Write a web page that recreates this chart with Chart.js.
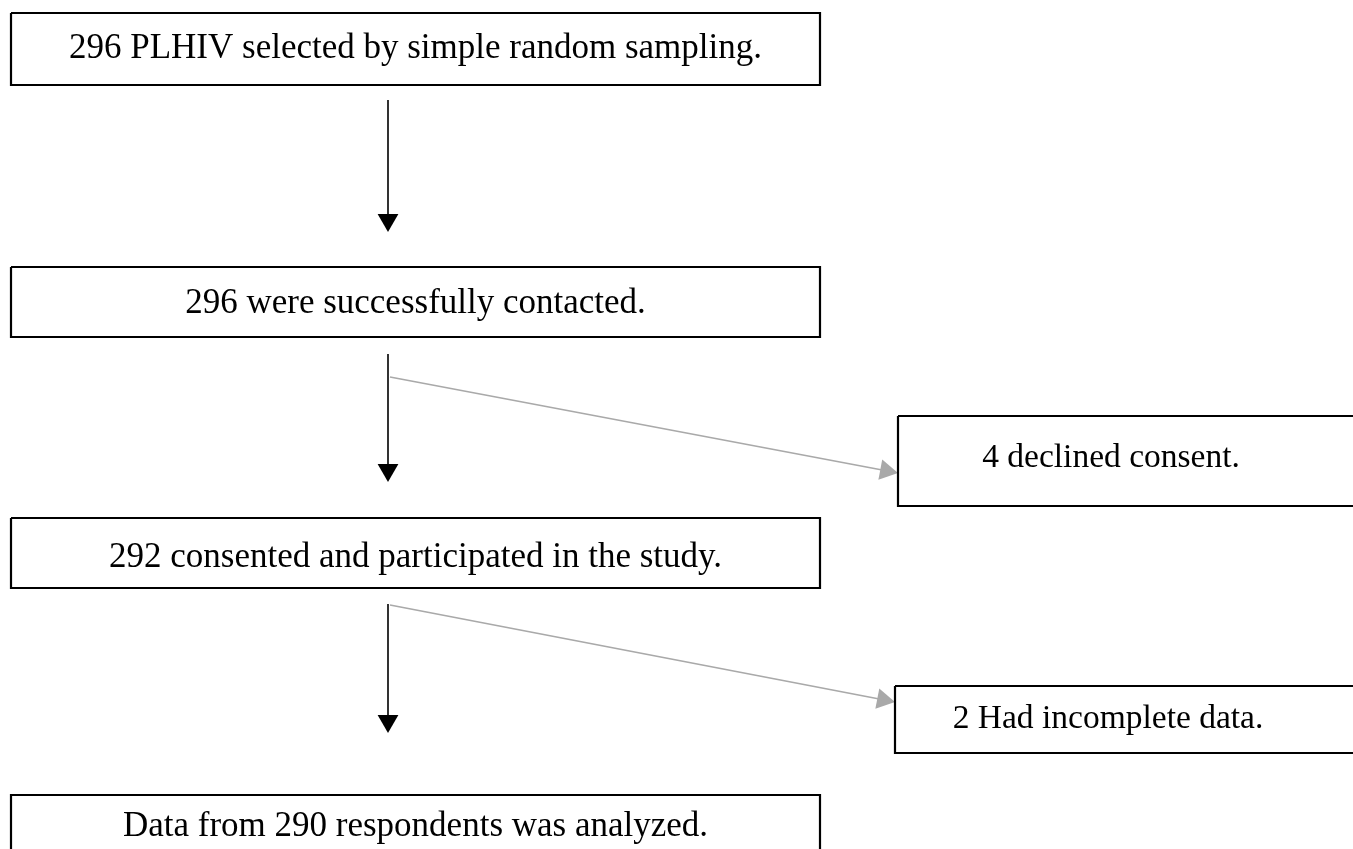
<!DOCTYPE html>
<html>
<head>
<meta charset="utf-8">
<script src="https://cdn.jsdelivr.net/npm/chart.js@4"></script>
<style>
  html, body { margin: 0; padding: 0; background: #ffffff; }
  #wrap { width: 1353px; height: 849px; position: relative; }
</style>
</head>
<body>
<div id="wrap"><canvas id="c"></canvas></div>
<script>
// ---- Data (flow counts and step labels) ----
const stepCounts = [296, 296, 292, 290];
const stepLabels = [
  "296 PLHIV selected by simple random sampling.",
  "296 were successfully contacted.",
  "292 consented and participated in the study.",
  "Data from 290 respondents was analyzed."
];
const excludedCounts = [4, 2];
const excludedLabels = [
  "4 declined consent.",
  "2 Had incomplete data."
];

// ---- Layout (canvas-unit scale, 1 unit = 1 px) ----
const mainLeft = 11, mainRight = 820;
const mainTops = [13, 267, 518, 795];
const mainBottoms = [85, 337, 588, 870];
const mainTextY = [49, 304, 558, 827];
const sideLefts = [898, 895];
const sideRight = 1380;
const sideTops = [416, 686];
const sideBottoms = [506, 753];
const sideTextY = [458, 719];
const sideTextX = [1111, 1108];
const downX = 388;
const downStarts = [100, 354, 604];
const downTips = [232, 482, 733];
const branchStarts = [[390, 377], [390, 605]];
const branchTips = [[898, 473], [895, 702]];

function boxPath(l, t, r, b, openBottom) {
  if (openBottom) return [{x:l,y:b},{x:l,y:t},{x:r,y:t},{x:r,y:b}];
  return [{x:l,y:t},{x:r,y:t},{x:r,y:b},{x:l,y:b},{x:l,y:t}];
}
function arrowDatasets(from, tip, color, width, r) {
  const dx = tip[0]-from[0], dy = tip[1]-from[1];
  const len = Math.hypot(dx, dy), ux = dx/len, uy = dy/len;
  const cx = tip[0]-ux*r, cy = tip[1]-uy*r;
  const rot = Math.atan2(ux, -uy)*180/Math.PI;
  return [
    { data: [{x:from[0],y:from[1]},{x:cx,y:cy}], showLine: true, borderColor: color,
      borderWidth: width, pointRadius: 0 },
    { data: [{x:cx,y:cy}], showLine: false, pointStyle: 'triangle', pointRadius: r,
      pointRotation: rot, pointBackgroundColor: color, pointBorderWidth: 0, borderWidth: 0 }
  ];
}

const datasets = [];
stepLabels.forEach((s, i) => {
  datasets.push({ data: boxPath(mainLeft, mainTops[i], mainRight, mainBottoms[i], i === stepLabels.length-1),
    showLine: true, borderColor: '#000', borderWidth: 2.2, pointRadius: 0 });
});
excludedLabels.forEach((s, i) => {
  datasets.push({ data: boxPath(sideLefts[i], sideTops[i], sideRight, sideBottoms[i], false),
    showLine: true, borderColor: '#000', borderWidth: 2.2, pointRadius: 0 });
});
downStarts.forEach((s, i) => {
  arrowDatasets([downX, s], [downX, downTips[i]], '#000', 1.6, 12).forEach(d => datasets.push(d));
});
branchStarts.forEach((s, i) => {
  arrowDatasets(s, branchTips[i], '#a9a9a9', 1.6, 12).forEach(d => datasets.push(d));
});

const textPlugin = {
  id: 'flowText',
  afterDatasetsDraw(chart) {
    const { ctx, scales: { x, y } } = chart;
    ctx.save();
    ctx.fillStyle = '#000';
    ctx.textAlign = 'center';
    ctx.textBaseline = 'middle';
    const midX = (mainLeft + mainRight) / 2;
    ctx.font = '35px "Liberation Serif", "Times New Roman", serif';
    stepLabels.forEach((t, i) => ctx.fillText(t, x.getPixelForValue(midX), y.getPixelForValue(mainTextY[i])));
    ctx.font = '33.5px "Liberation Serif", "Times New Roman", serif';
    excludedLabels.forEach((t, i) => ctx.fillText(t, x.getPixelForValue(sideTextX[i]), y.getPixelForValue(sideTextY[i])));
    ctx.restore();
  }
};

new Chart(document.getElementById('c'), {
  type: 'scatter',
  data: { datasets },
  options: {
    responsive: true,
    maintainAspectRatio: false,
    animation: false,
    layout: { padding: 0, autoPadding: false },
    plugins: { legend: { display: false }, tooltip: { enabled: false } },
    scales: {
      x: { type: 'linear', min: 0, max: 1353, display: false },
      y: { type: 'linear', min: 0, max: 849, reverse: true, display: false }
    }
  },
  plugins: [textPlugin]
});
</script>
</body>
</html>
